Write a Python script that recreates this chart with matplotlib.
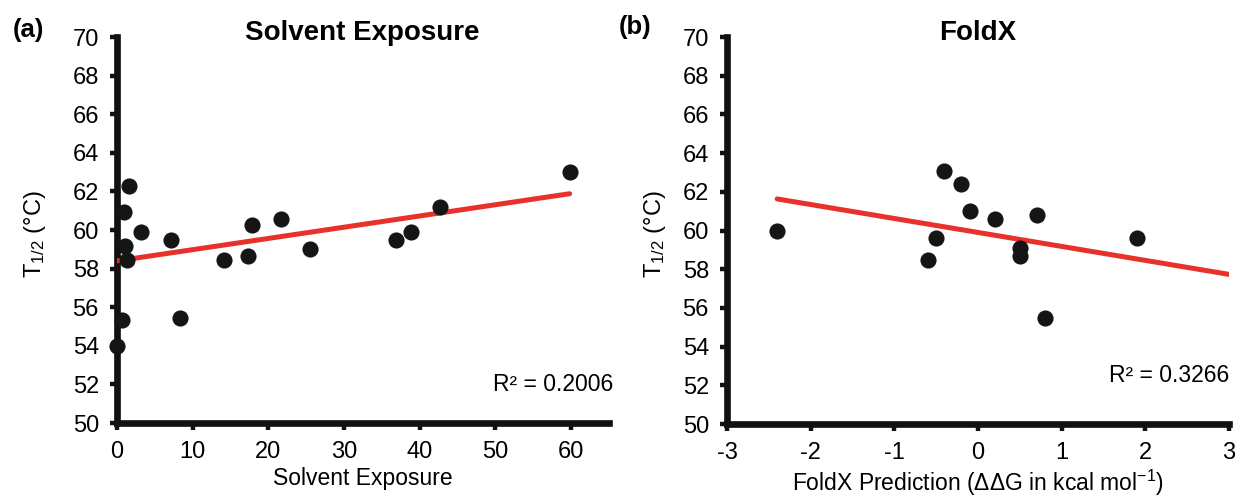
import matplotlib
matplotlib.use("Agg")
import matplotlib.pyplot as plt
import numpy as np

plt.rcParams['font.family'] = ['Liberation Sans', 'DejaVu Sans']
plt.rcParams['mathtext.default'] = 'regular'
plt.rcParams['axes.unicode_minus'] = False

# data
# (a) solvent exposure vs T1/2
se_x = [1.6, 0.9, 3.2, 7.2, 1.05, 1.3, 14.2, 17.3, 17.8, 21.7, 25.5,
        0.6, 8.3, 0.0, 36.9, 38.8, 42.7, 59.8]
se_y = [62.3, 60.95, 59.9, 59.5, 59.15, 58.45, 58.45, 58.65, 60.25, 60.55, 59.0,
        55.35, 55.45, 54.0, 59.5, 59.9, 61.2, 63.0]
se_fit = [0.0582, 58.4]   # slope, intercept
se_r2 = "R² = 0.2006"

# (b) FoldX ddG vs T1/2
fx_x = [-2.4, -0.4, -0.2, -0.1, 0.2, 0.7, -0.5, -0.6, 0.5, 0.5, 0.8, 1.9]
fx_y = [60.0, 63.1, 62.4, 61.0, 60.6, 60.8, 59.6, 58.5, 59.1, 58.7, 55.5, 59.6]
fx_fit = [-0.722, 59.9]
fx_r2 = "R² = 0.3266"

y_ticks = np.arange(50, 71, 2)

fig = plt.figure(figsize=(12.38, 4.99), dpi=100)
ax1 = fig.add_axes([0.0945, 0.1523, 0.3974, 0.7735])
ax2 = fig.add_axes([0.5872, 0.1503, 0.4055, 0.7755])

dot_c = "#151515"
line_c = "#e8312a"


def style_axes(axes):
    for side in ["top", "right"]:
        axes.spines[side].set_visible(False)
    for side in ["left", "bottom"]:
        axes.spines[side].set_linewidth(4.8)
        axes.spines[side].set_color("#111111")
        axes.spines[side].set_capstyle("projecting")
    axes.tick_params(direction="out", length=5, width=3.2, color="#111111",
                     labelsize=17, pad=8)
    axes.set_ylim(50, 70)
    axes.set_yticks(y_ticks)
    axes.set_ylabel("T$_{1/2}$ (°C)", fontsize=17)


# panel (a)
style_axes(ax1)
ax1.set_xlim(0, 65)
ax1.set_xticks(np.arange(0, 61, 10))
xs = np.array([min(se_x), max(se_x)])
ax1.plot(xs, se_fit[0] * xs + se_fit[1], color=line_c, lw=3.6,
         solid_capstyle="round", zorder=3)
ax1.scatter(se_x, se_y, s=135, c=dot_c, lw=0, zorder=4, clip_on=False)
ax1.text(65.5, 52.0, se_r2, ha="right", va="center", fontsize=16.5)
ax1.set_xlabel("Solvent Exposure", fontsize=16.5, labelpad=3)
ax1.yaxis.set_label_coords(-0.14, 0.49)

# panel (b)
style_axes(ax2)
ax2.set_xlim(-3, 3)
ax2.set_xticks(np.arange(-3, 4, 1))
xs = np.array([min(fx_x), 3.0])
ax2.plot(xs, fx_fit[0] * xs + fx_fit[1], color=line_c, lw=3.6,
         solid_capstyle="round", zorder=3)
ax2.scatter(fx_x, fx_y, s=135, c=dot_c, lw=0, zorder=4, clip_on=False)
ax2.text(3.0, 52.5, fx_r2, ha="right", va="center", fontsize=16.5)
ax2.set_xlabel("FoldX Prediction (ΔΔG in kcal mol$^{-1}$)", fontsize=16.5, labelpad=3)
ax2.yaxis.set_label_coords(-0.118, 0.49)

# titles and panel letters
fig.text(0.293, 0.934, "Solvent Exposure", ha="center", va="center",
         fontsize=20, fontweight="bold")
fig.text(0.790, 0.934, "FoldX", ha="center", va="center",
         fontsize=20, fontweight="bold")
fig.text(0.023, 0.940, "(a)", ha="center", va="center", fontsize=18.5, fontweight="bold")
fig.text(0.513, 0.946, "(b)", ha="center", va="center", fontsize=18.5, fontweight="bold")

fig.savefig("out.png", dpi=100)
plt.close()
